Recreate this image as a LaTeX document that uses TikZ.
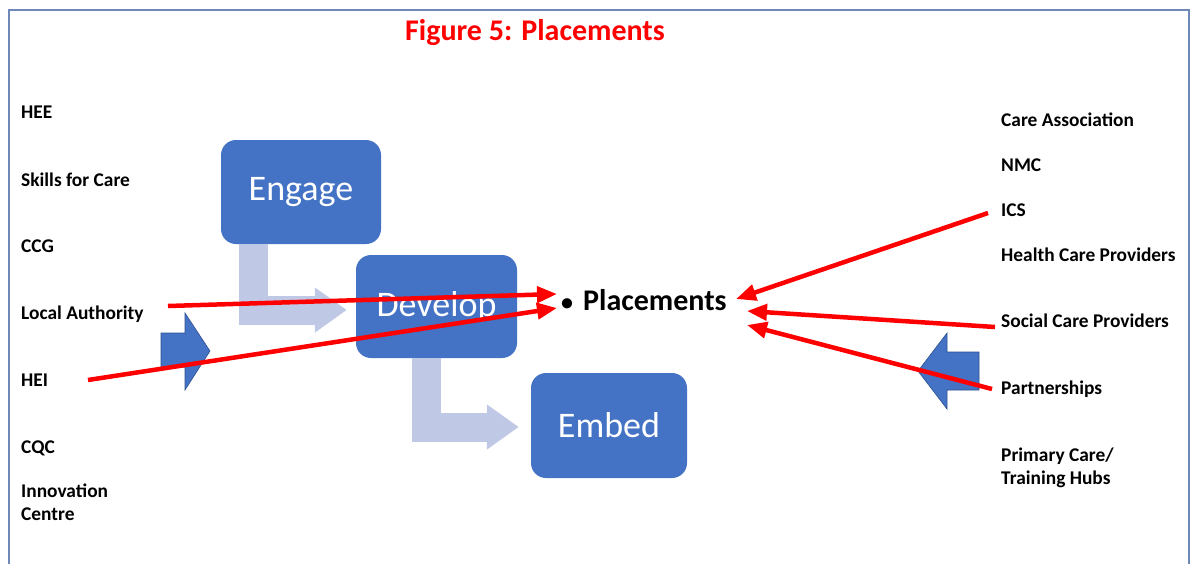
\documentclass[tikz,border=0pt]{standalone}
\usepackage{fontspec}
\setmainfont{Carlito}
\usetikzlibrary{arrows.meta,calc}
\definecolor{boxblue}{RGB}{68,114,196}
\definecolor{boxline}{RGB}{47,82,143}
\definecolor{soft}{RGB}{191,201,229}
\definecolor{frame}{RGB}{111,136,186}
\begin{document}
\begin{tikzpicture}[x=1pt,y=-1pt,
  stage/.style={draw=none,fill=boxblue,rounded corners=15pt,text=white,
    font=\fontsize{36}{40}\selectfont,inner sep=0pt},
  lbl/.style={anchor=base west,font=\bfseries\fontsize{19.4}{23}\selectfont,inner sep=0pt,align=left},
  softarrow/.style={draw=soft,line width=29pt,line join=miter,
    -{Triangle[length=32pt,width=43pt]}},
  redarrow/.style={draw=red,line width=4.5pt,
    -{Triangle[length=20pt,width=16pt]}},
  blockarrow/.style={fill=boxblue,draw=boxline,line width=0.6pt}]
\useasboundingbox (0,0) rectangle (1198,563);
\fill[white] (0,0) rectangle (1198,563);
\draw[frame,line width=1.8pt] (9,570) -- (9,10) -- (1189,10) -- (1189,570);
% title
\node[text=red,font=\bfseries\fontsize{30}{34}\selectfont,inner sep=0pt] (title) at (535,33) {Figure 5: Placements};
% stages
\node[stage,minimum width=160pt,minimum height=104pt] (engage) at (301,192) {Engage};
\node[stage,minimum width=161pt,minimum height=103pt] (develop) at (436.5,306.5) {Develop};
\node[stage,minimum width=156pt,minimum height=105pt] (embed) at (609,425.5) {Embed};
% soft bent arrows
\draw[softarrow] ($(engage.south west)+(33,0)$) |- ($(develop.west)+(-9,3.5)$);
\draw[softarrow] ($(develop.south west)+(71,0)$) |- ($(embed.west)+(-12,1.5)$);
% blue block arrows
\filldraw[blockarrow] (161,333) -- (185,333) -- (185,313) -- (210,351) -- (185,390) -- (185,367) -- (161,367) -- cycle;
\filldraw[blockarrow] (979,352) -- (947,352) -- (947,333) -- (918,371) -- (947,409) -- (947,390) -- (979,390) -- cycle;
% left labels
\node[lbl] (hee) at (21,118) {HEE};
\node[lbl] (sfc) at (21,186) {Skills for Care};
\node[lbl] (ccg) at (21,252) {CCG};
\node[lbl] (la) at (21,319) {Local Authority};
\node[lbl] (hei) at (21,386) {HEI};
\node[lbl] (cqc) at (21,453) {CQC};
\node[lbl] (innov) at (21,520) {Innovation\\Centre};
% right labels
\node[lbl] (care) at (1001,126) {Care Association};
\node[lbl] (nmc) at (1001,171) {NMC};
\node[lbl] (ics) at (1001,216) {ICS};
\node[lbl] (hcp) at (1001,261) {Health Care Providers};
\node[lbl] (scp) at (1001,327) {Social Care Providers};
\node[lbl] (part) at (1001,394) {Partnerships};
\node[lbl] (prim) at (1001,484) {Primary Care/\\Training Hubs};
% placements
\node[anchor=base west,inner sep=0pt,font=\bfseries\fontsize{30}{32}\selectfont] (plc) at (561,310) {{\fontsize{24}{24}\selectfont•}\hspace{10pt}Placements};
% connector ends
\coordinate (la-s) at (168,306);
\coordinate (hei-s) at (88,380);
\coordinate (ics-s) at (988,213);
\coordinate (scp-s) at (995,327);
\coordinate (part-s) at (992,389);
\coordinate (in-la) at (557,294);
\coordinate (in-hei) at (557,308);
\coordinate (in-ics) at (736,299);
\coordinate (in-scp) at (747,311);
\coordinate (in-part) at (747,325);
% red arrows
\draw[redarrow] (la-s) -- (in-la);
\draw[redarrow] (hei-s) -- (in-hei);
\draw[redarrow] (ics-s) -- (in-ics);
\draw[redarrow] (scp-s) -- (in-scp);
\draw[redarrow] (part-s) -- (in-part);
\end{tikzpicture}
\end{document}
